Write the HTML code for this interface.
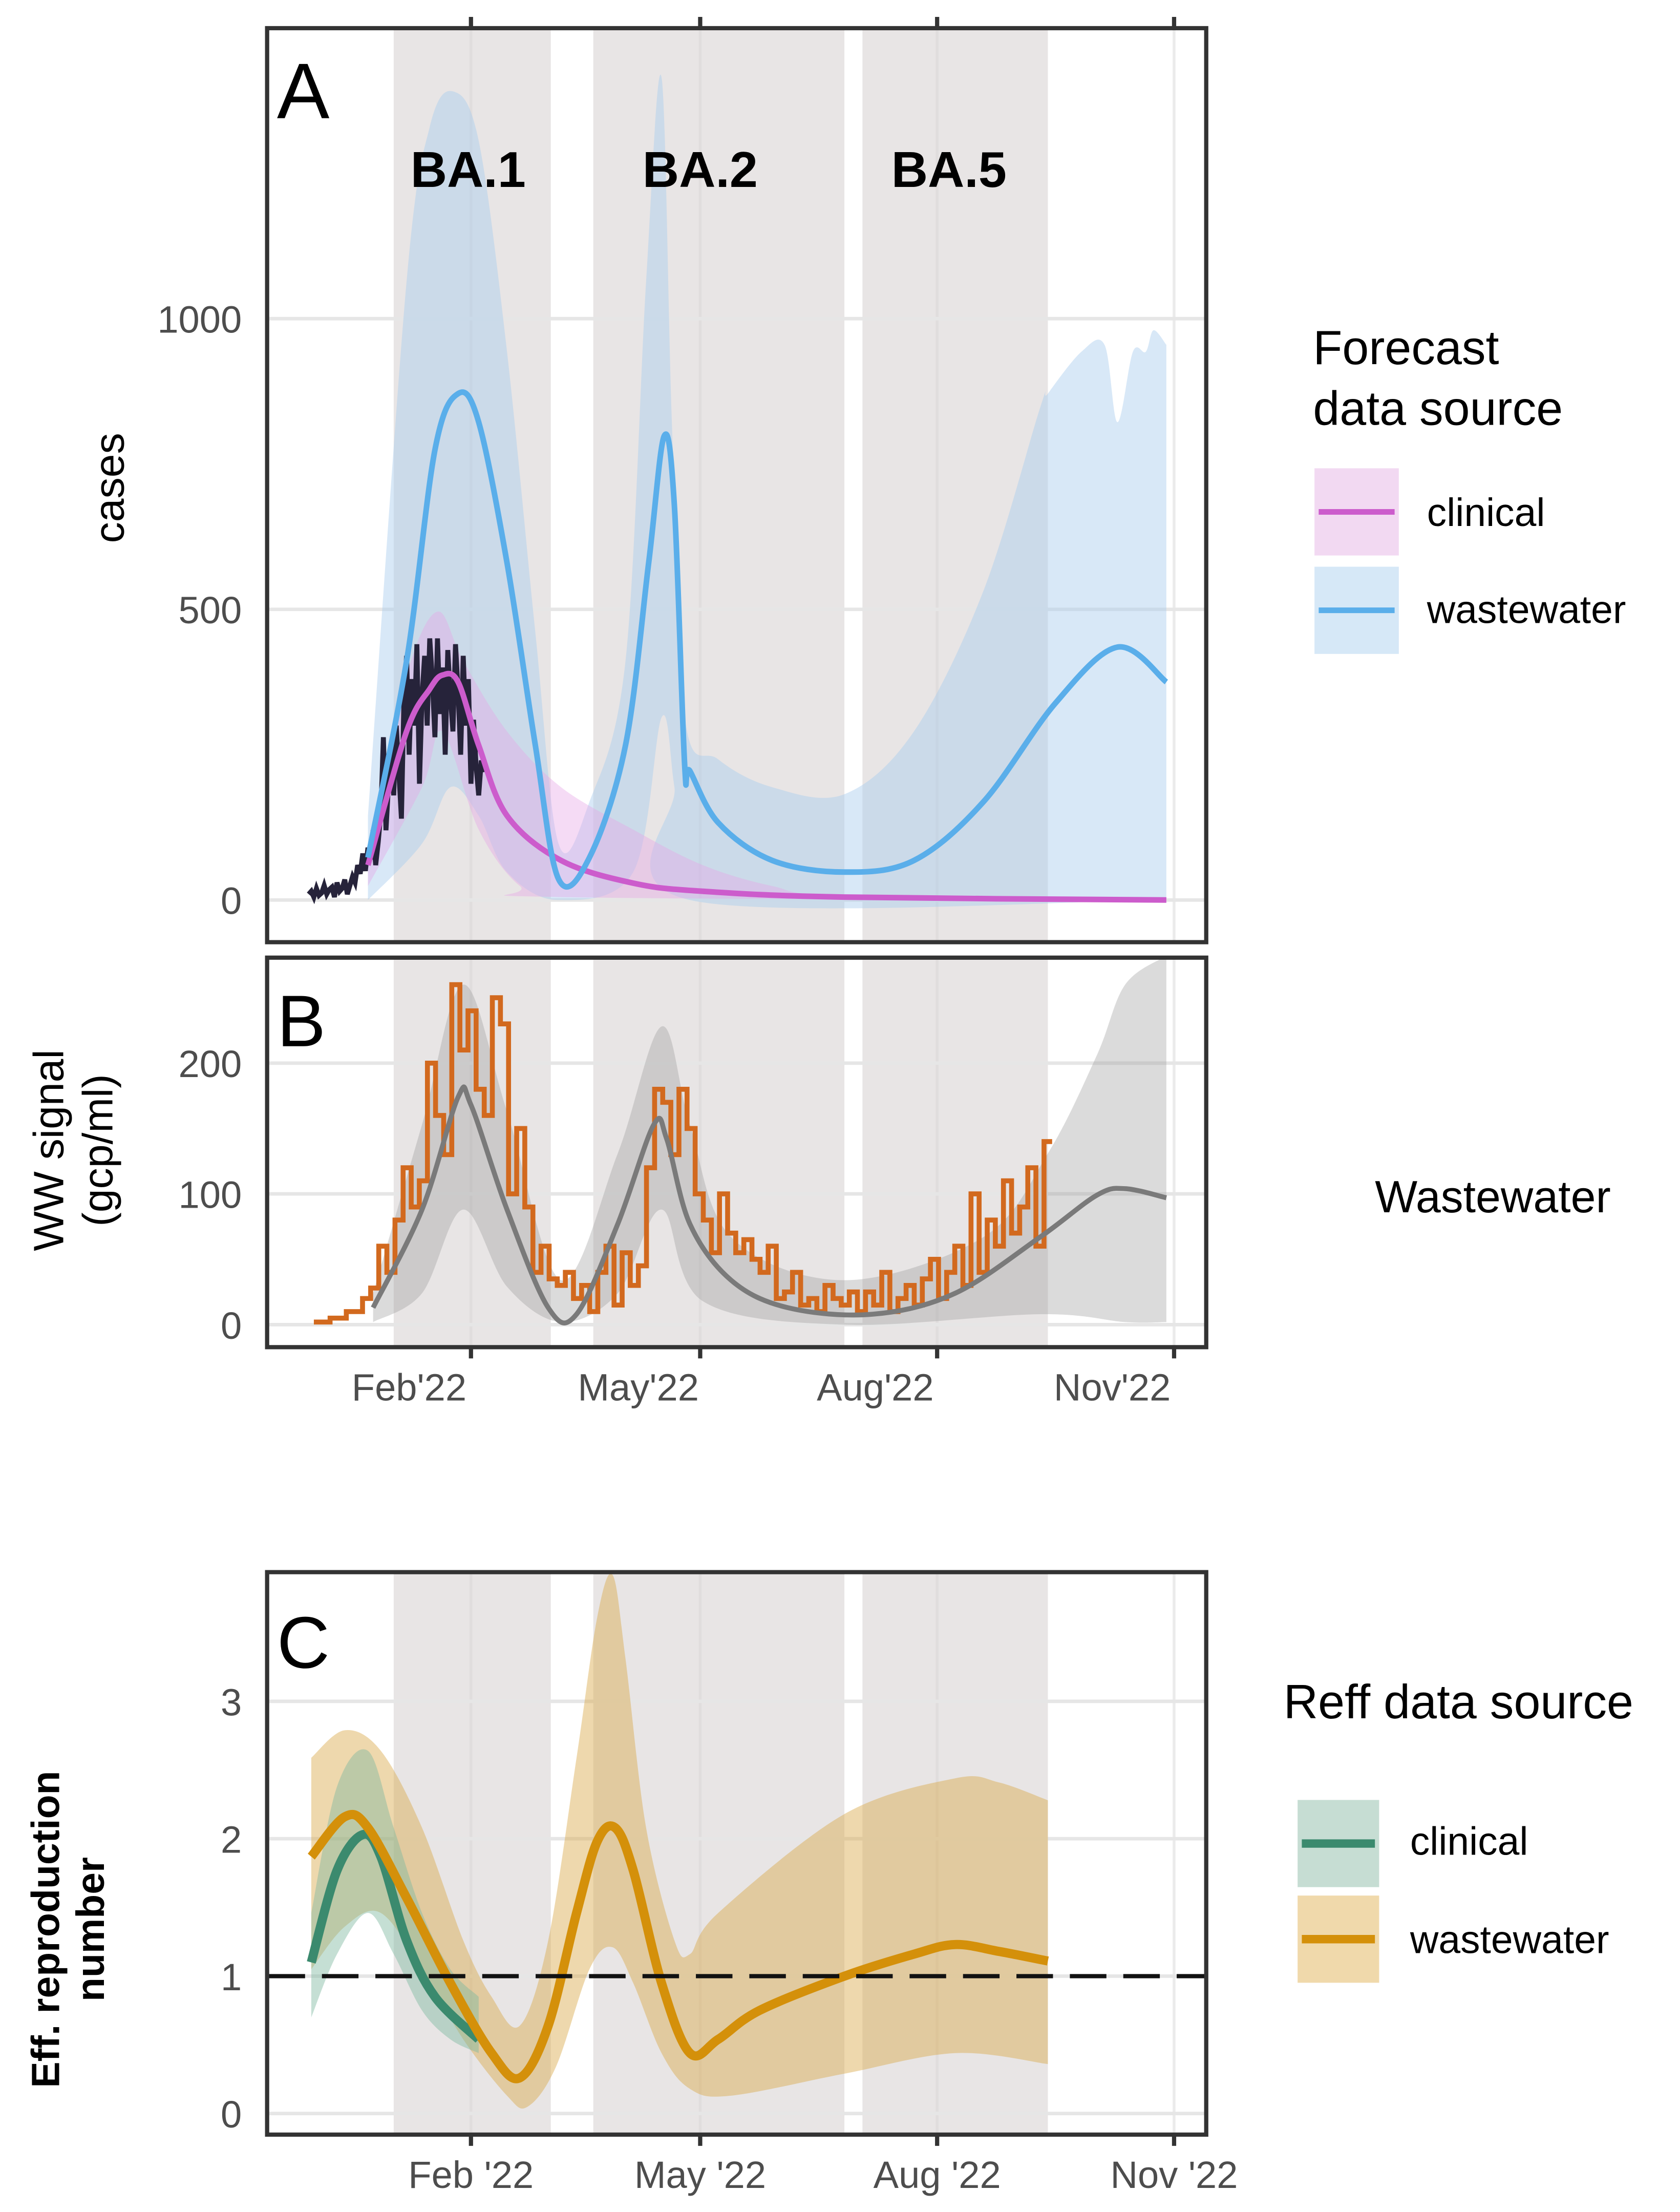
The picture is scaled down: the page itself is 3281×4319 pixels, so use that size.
<!DOCTYPE html>
<html><head><meta charset="utf-8"><style>
html,body{margin:0;padding:0;background:#fff}
svg{display:block}
text{font-family:"Liberation Sans",sans-serif}
</style></head><body>
<svg id="chart" width="3281" height="4319" viewBox="0 0 1195 1573" xmlns="http://www.w3.org/2000/svg">
<defs>
<clipPath id="clipA"><rect x="191" y="21" width="666" height="648"/></clipPath>
<clipPath id="clipB"><rect x="191" y="682" width="666" height="275"/></clipPath>
<clipPath id="clipC"><rect x="191" y="1119" width="666" height="398"/></clipPath>
</defs>
<g id="gA" clip-path="url(#clipA)"></g>
<g id="gB" clip-path="url(#clipB)"></g>
<g id="gC" clip-path="url(#clipC)"></g>
<g id="frames"></g>
<g id="labels">
<text x="197" y="84" font-size="56">A</text>
<text x="197" y="744" font-size="52">B</text>
<text x="197" y="1186" font-size="52">C</text>
<text x="333" y="133" font-size="36" font-weight="bold" text-anchor="middle">BA.1</text>
<text x="498" y="133" font-size="36" font-weight="bold" text-anchor="middle">BA.2</text>
<text x="675" y="133" font-size="36" font-weight="bold" text-anchor="middle">BA.5</text>
<text transform="translate(88,347) rotate(-90)" font-size="30" text-anchor="middle">cases</text>
<text transform="translate(45,818) rotate(-90)" font-size="30" text-anchor="middle">WW signal</text>
<text transform="translate(80,818) rotate(-90)" font-size="30" text-anchor="middle">(gcp/ml)</text>
<text transform="translate(42,1372) rotate(-90)" font-size="28" font-weight="bold" text-anchor="middle">Eff. reproduction</text>
<text transform="translate(74,1372) rotate(-90)" font-size="28" font-weight="bold" text-anchor="middle">number</text>
<text x="934" y="259" font-size="34">Forecast</text>
<text x="934" y="302" font-size="34">data source</text>
<rect x="935" y="333" width="60" height="62" fill="#f2d9f2"/>
<line x1="938" y1="364" x2="992" y2="364" stroke="#cc5ccc" stroke-width="4"/>
<text x="1015" y="374" font-size="28">clinical</text>
<rect x="935" y="403" width="60" height="62" fill="#d6e8f7"/>
<line x1="938" y1="434" x2="992" y2="434" stroke="#5aaeea" stroke-width="4"/>
<text x="1015" y="443" font-size="28">wastewater</text>
<text x="978" y="862" font-size="32">Wastewater</text>
<text x="913" y="1222" font-size="34">Reff data source</text>
<rect x="923" y="1280" width="58" height="62" fill="#c6ddd3"/>
<line x1="926" y1="1311" x2="978" y2="1311" stroke="#3b8a6e" stroke-width="6"/>
<text x="1003" y="1319" font-size="28">clinical</text>
<rect x="923" y="1348" width="58" height="62" fill="#f0d9ab"/>
<line x1="926" y1="1379" x2="978" y2="1379" stroke="#d4900a" stroke-width="6"/>
<text x="1003" y="1389" font-size="28">wastewater</text>
</g>
</svg>
<script>
// ---- data (days relative to 1 Feb 2022) ----
const bandStart=[-30,47.5,152];
const bandEnd=[31,145,224];
const monthTicks=[0,89,181,273];
const monthLabelsAB=["Feb'22","May'22","Aug'22","Nov'22"];
const monthLabelsC=["Feb '22","May '22","Aug '22","Nov '22"];
const ticksA=[0,500,1000];
const ticksB=[0,100,200];
const ticksC=[0,1,2,3];
// Panel A
const obsStart=-63;
const obsCases=[10,15,5,20,8,12,25,10,18,22,5,30,15,20,35,10,25,40,30,60,45,80,50,90,70,120,60,100,150,280,120,200,260,180,300,220,140,350,420,250,380,300,440,200,350,420,300,450,380,280,450,320,400,250,430,350,290,440,360,250,420,300,380,200,310,230,180,240,220];
const wwDays=[-40,-25,-14,-5,3,14,25,34,46,60,69,75,79,83,85,96,117,145,172,199,227,251,270];
const wwMed=[73,411,774,871,822,580,266,36,73,266,580,798,677,230,222,133,68,48,68,169,339,435,375];
const wwUpDays=[-40,-25,-16,-7,3,14,25,34,46,60,68,74,78,83,96,117,145,172,199,221,224,237,246,251,257,262,265,270];
const wwUp=[145,1064,1330,1391,1306,943,460,97,169,411,1064,1415,822,314,242,194,182,290,532,847,871,943,955,822,943,943,980,955];
const wwLoDays=[-40,-19,-8,3,14,34,63,74,79,85,270];
const wwLo=[0,97,194,145,48,0,48,314,194,0,0];
const clDays=[-40,-25,-16,-11,-5,3,14,35,63,90,145,270];
const clMed=[60,290,363,387,375,266,145,68,29,15,5,0];
const clUpDays=[-40,-25,-13,-3,14,35,63,90,117,145,270];
const clUp=[97,387,496,411,290,194,121,60,24,7,0];
const clLoDays=[-40,-19,-11,3,19,35,270];
const clLo=[24,194,290,121,24,5,0];
// Panel B
const sigStart=-61, sigStep=3.15;
const sigVals=[2,2,5,5,10,10,20,28,60,40,80,120,90,110,200,160,130,260,210,240,180,160,250,230,100,150,90,40,60,35,30,40,20,30,10,40,60,15,55,30,45,120,180,170,130,180,150,100,80,55,100,70,55,65,50,40,60,20,25,40,15,20,10,30,20,15,25,10,25,15,40,10,20,30,15,35,50,20,40,60,30,100,40,80,60,110,70,90,120,60,140];
const bMedDays=[-38,-19,-5,0,14,30,41,57,71,76,85,101,123,156,188,221,243,254,270];
const bMed=[13,88,174,168,88,13,8,77,153,142,77,34,13,8,24,67,99,104,97];
const bUpDays=[-38,-19,-3,14,35,57,74,85,101,145,199,224,243,254,270];
const bUp=[24,153,260,163,34,131,228,153,67,34,67,131,206,260,282];
const bLoDays=[-38,-19,-3,14,35,57,74,90,145,221,254,270];
const bLo=[2,24,88,29,2,24,88,18,0,8,2,2];
// Panel C
const gDays=[-62,-52,-42,-35,-25,-14,3];
const gMed=[1.10,1.77,2.03,1.87,1.26,0.85,0.54];
const gRDays=[-62,-52,-40,-30,-19,-8,3];
const gUp=[1.46,2.38,2.64,2.08,1.46,1.05,0.85];
const gLo=[0.70,1.16,1.46,1.16,0.75,0.54,0.44];
const oDays=[-62,-49,-40,-25,-8,8,19,30,41,49,56,63,74,85,96,112,145,172,188,205,224];
const oMed=[1.87,2.16,2.08,1.57,0.95,0.44,0.26,0.64,1.46,1.98,2.08,1.77,0.95,0.44,0.54,0.75,1.00,1.16,1.23,1.18,1.11];
const oUpDays=[-62,-49,-35,-19,-3,8,19,30,41,49,55,60,68,79,85,96,145,188,205,224];
const oUp=[2.59,2.79,2.64,2.08,1.26,0.85,0.64,1.26,2.59,3.61,3.92,3.31,2.08,1.26,1.16,1.46,2.18,2.44,2.41,2.28];
const oLoDays=[-62,-49,-35,-19,-3,14,22,33,46,55,63,74,85,101,145,188,224];
const oLo=[1.05,1.36,1.46,1.05,0.54,0.13,0.05,0.34,1.05,1.21,0.95,0.44,0.18,0.13,0.29,0.44,0.36];

// ---- scales ----
const NS="http://www.w3.org/2000/svg";
const X=d=>335+d*1.832;
const YA=v=>640-v*0.4134;
const YB=v=>942-v*0.93;
const YC=v=>1503-v*97.7;
function el(tag,attrs,parent){const e=document.createElementNS(NS,tag);for(const k in attrs)e.setAttribute(k,attrs[k]);parent.appendChild(e);return e;}
function smooth(pts){let d="M"+pts[0][0]+","+pts[0][1];for(let i=0;i<pts.length-1;i++){const p0=pts[i-1]||pts[i],p1=pts[i],p2=pts[i+1],p3=pts[i+2]||p2;const c1=[p1[0]+(p2[0]-p0[0])/6,p1[1]+(p2[1]-p0[1])/6],c2=[p2[0]-(p3[0]-p1[0])/6,p2[1]-(p3[1]-p1[1])/6];d+=" C"+c1+" "+c2+" "+p2;}return d;}
const pts=(ds,vs,Y)=>ds.map((d,i)=>[X(d),Y(vs[i])]);
function ribbon(ud,u,ld,l,Y){const up=pts(ud,u,Y),lo=pts(ld,l,Y).reverse();return smooth(up)+" L"+lo[0]+" "+smooth(lo).slice(1)+" Z";}

const gA=document.getElementById('gA'),gB=document.getElementById('gB'),gC=document.getElementById('gC'),fr=document.getElementById('frames');
const panels=[[gA,21,669],[gB,682,957],[gC,1119,1517]];
panels.forEach(([g,t,b],pi)=>{
  el('rect',{x:191,y:t,width:666,height:b-t,fill:'#fff'},g);
  monthTicks.forEach(m=>{const l=el('line',{x1:X(m),x2:X(m),y1:t,y2:b,stroke:'#ebebeb','stroke-width':2},g);
  
  });
  bandStart.forEach((s,i)=>{const r=el('rect',{x:X(s),y:t,width:X(bandEnd[i])-X(s),height:b-t,fill:'#d9d4d4','fill-opacity':0.6},g);
  
  });
});
function hgrid(g,ticks,Y,lblX){ticks.forEach(v=>{const l=el('line',{x1:191,x2:857,y1:Y(v),y2:Y(v),stroke:'#e6e6e6','stroke-width':2.5},g);


const tx=el('text',{x:lblX,y:Y(v)+10,'font-size':27,'text-anchor':'end',fill:'#4d4d4d'},fr);tx.textContent=v;

});}
hgrid(gA,ticksA,YA,172);hgrid(gB,ticksB,YB,172);hgrid(gC,ticksC,YC,172);

// Panel A
let p;
p=el('path',{d:ribbon(wwUpDays,wwUp,wwLoDays,wwLo,YA),fill:'#a9cdee','fill-opacity':0.45},gA);


p=el('path',{d:ribbon(clUpDays,clUp,clLoDays,clLo,YA),fill:'#e7a6e7','fill-opacity':0.4},gA);


p=el('path',{d:"M"+obsCases.map((v,i)=>X(obsStart+i)+","+YA(v)).join(" L"),fill:'none',stroke:'#26233a','stroke-width':3.5},gA);


p=el('path',{d:smooth(pts(clDays,clMed,YA)),fill:'none',stroke:'#cc5ccc','stroke-width':4},gA);


p=el('path',{d:smooth(pts(wwDays,wwMed,YA)),fill:'none',stroke:'#5aaeea','stroke-width':4},gA);



// Panel B
p=el('path',{d:ribbon(bUpDays,bUp,bLoDays,bLo,YB),fill:'#999','fill-opacity':0.35},gB);


let sd="M"+X(sigStart)+","+YB(sigVals[0]);
sigVals.forEach((v,i)=>{sd+=" L"+X(sigStart+i*sigStep)+","+YB(v)+" L"+X(sigStart+(i+1)*sigStep)+","+YB(v);});
p=el('path',{d:sd,fill:'none',stroke:'#d2691e','stroke-width':3.5},gB);


p=el('path',{d:smooth(pts(bMedDays,bMed,YB)),fill:'none',stroke:'#7a7a7a','stroke-width':3.5},gB);



// Panel C
p=el('path',{d:ribbon(oUpDays,oUp,oLoDays,oLo,YC),fill:'#d9a84a','fill-opacity':0.45},gC);


p=el('path',{d:ribbon(gRDays,gUp,gRDays,gLo,YC),fill:'#7fb8a0','fill-opacity':0.45},gC);


p=el('path',{d:smooth(pts(gDays,gMed,YC)),fill:'none',stroke:'#3b8a6e','stroke-width':6.5},gC);


p=el('path',{d:smooth(pts(oDays,oMed,YC)),fill:'none',stroke:'#d4900a','stroke-width':6.5},gC);


p=el('line',{x1:191,x2:857,y1:YC(1),y2:YC(1),stroke:'#111','stroke-width':3,'stroke-dasharray':'26,12'},gC);



// frames & ticks
[[20,670],[681,958],[1118,1518]].forEach(([t,b])=>{const r=el('rect',{x:190,y:t,width:668,height:b-t,fill:'none',stroke:'#333','stroke-width':3},fr);

});
monthTicks.forEach((m,i)=>{
  el('line',{x1:X(m),x2:X(m),y1:12,y2:20,stroke:'#333','stroke-width':3},fr);
  el('line',{x1:X(m),x2:X(m),y1:958,y2:966,stroke:'#333','stroke-width':3},fr);
  el('line',{x1:X(m),x2:X(m),y1:1518,y2:1526,stroke:'#333','stroke-width':3},fr);
  let t=el('text',{x:X(m)-44,y:996,'font-size':27,'text-anchor':'middle',fill:'#4d4d4d'},fr);t.textContent=monthLabelsAB[i];
  
  
  t=el('text',{x:X(m),y:1556,'font-size':27,'text-anchor':'middle',fill:'#4d4d4d'},fr);t.textContent=monthLabelsC[i];
  
  
});
</script>
</body></html>
